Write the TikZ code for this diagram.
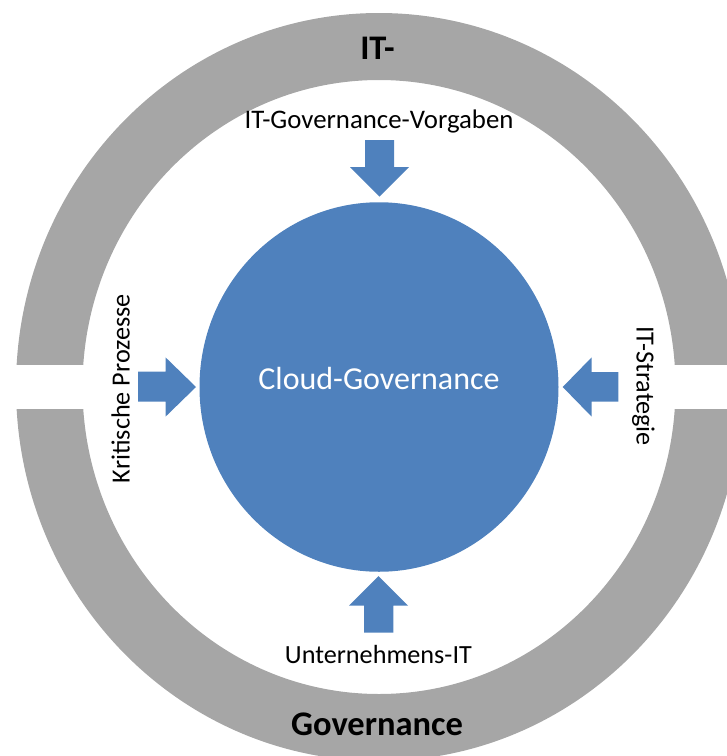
\documentclass[tikz,border=0pt]{standalone}
\usepackage{fontspec}
\setmainfont{Carlito}
\usetikzlibrary{shapes.geometric}
\definecolor{ringgrey}{RGB}{166,166,166}
\definecolor{cgblue}{RGB}{79,129,189}
\begin{document}
\begin{tikzpicture}[x=1pt,y=1pt,
  ringlabel/.style={font=\fontsize{34.5}{40}\selectfont\bfseries, text=black, inner sep=0pt, anchor=base},
  sidelabel/.style={font=\fontsize{26.2}{30}\selectfont, text=black, inner sep=0pt, anchor=base},
  blockarrow/.style={fill=cgblue, draw=none}]
\useasboundingbox (0,0) rectangle (727,-756);
% ring
\fill[ringgrey, even odd rule] (379,-387) ellipse [x radius=363pt, y radius=374pt]
      (379,-387) ellipse [x radius=296.5pt, y radius=307pt];
\fill[white] (0,-365) rectangle (100,-409);
\fill[white] (655,-365) rectangle (727,-409);
% central ellipse
\node[ellipse, fill=cgblue, draw=none, minimum width=359pt, minimum height=369.5pt, inner sep=0pt] (cloud) at (379,-387) {};
\node[sidelabel, font=\fontsize{32}{36}\selectfont, text=white] (cgtext) at (379,-389.6) {Cloud-Governance};
% arrows
\fill[blockarrow] (365,-140) -- (394,-140) -- (394,-167) -- (409,-167) -- (379.5,-196.7) -- (350,-167) -- (365,-167) -- cycle;
\fill[blockarrow] (364,-632.7) -- (393.3,-632.7) -- (393.3,-605.7) -- (408,-605.7) -- (378.5,-576) -- (349,-605.7) -- (364,-605.7) -- cycle;
\fill[blockarrow] (138,-371.7) -- (165.5,-371.7) -- (165.5,-357.3) -- (196,-387) -- (165.5,-416.7) -- (165.5,-401.7) -- (138,-401.7) -- cycle;
\fill[blockarrow] (618.3,-372) -- (591.7,-372) -- (591.7,-357.3) -- (562.7,-387) -- (591.7,-416.7) -- (591.7,-401.7) -- (618.3,-401.7) -- cycle;
% labels
\node[ringlabel] (ittop) at (377.5,-59.3) {IT-};
\node[ringlabel] (govbot) at (377,-735) {Governance};
\node[sidelabel, font=\fontsize{26.8}{30}\selectfont] (vorgaben) at (379,-128.5) {IT-Governance-Vorgaben};
\node[sidelabel] (unternehmen) at (378.4,-663.3) {Unternehmens-IT};
\node[sidelabel, rotate=90] (kritisch) at (129.5,-388.6) {Kritische Prozesse};
\node[sidelabel, rotate=-90] (strategie) at (636.5,-386) {IT-Strategie};
\end{tikzpicture}
\end{document}
